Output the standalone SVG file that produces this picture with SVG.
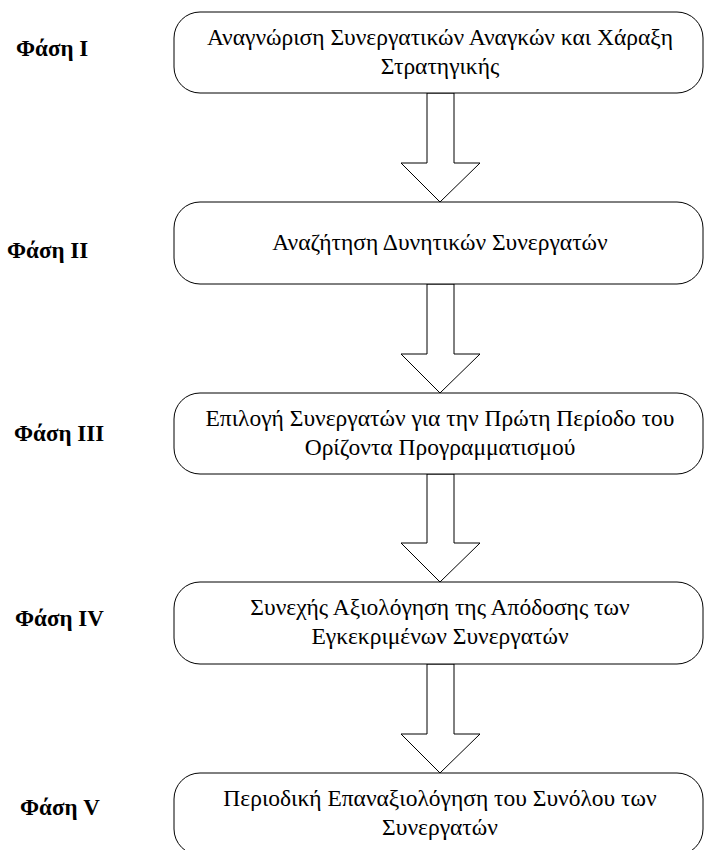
<svg xmlns="http://www.w3.org/2000/svg" width="705" height="850" viewBox="0 0 705 850">
  <style>
    .box { fill: #fff; stroke: #000; stroke-width: 1; }
    .arrow { fill: #fff; stroke: #000; stroke-width: 1; stroke-linejoin: miter; }
    .txt { font-family: "Liberation Serif", "Times New Roman", serif; font-size: 23.5px; fill: #000; text-anchor: middle; }
    .phase { font-family: "Liberation Serif", "Times New Roman", serif; font-size: 23px; font-weight: bold; fill: #000; }
  </style>
  <rect width="705" height="850" fill="#fff"/>

  <!-- phase labels -->
  <g id="labels">
    <text class="phase" x="16" y="56">Φάση Ι</text>
    <text class="phase" x="7" y="258">Φάση ΙΙ</text>
    <text class="phase" x="14" y="441">Φάση ΙΙΙ</text>
    <text class="phase" x="15" y="626">Φάση ΙV</text>
    <text class="phase" x="20" y="815">Φάση V</text>
  </g>

  <!-- block arrows between stages -->
  <g id="connectors">
    <polygon class="arrow" points="427,93 454,93 454,163 480,163 440,202 401,163 427,163"/>
    <polygon class="arrow" points="427,284 454,284 454,354 480,354 440,393 401,354 427,354"/>
    <polygon class="arrow" points="427,474 454,474 454,543 480,543 440,582 401,543 427,543"/>
    <polygon class="arrow" points="427,664 454,664 454,734 480,734 440,773 401,734 427,734"/>
  </g>

  <g id="stage1">
    <rect class="box" x="174" y="12" width="529" height="81" rx="26" ry="26"/>
    <text class="txt" x="440" y="45">Αναγνώριση Συνεργατικών Αναγκών και Χάραξη</text>
    <text class="txt" x="440" y="74">Στρατηγικής</text>
  </g>

  <g id="stage2">
    <rect class="box" x="174" y="202" width="529" height="82" rx="26" ry="26"/>
    <text class="txt" x="440" y="250">Αναζήτηση Δυνητικών Συνεργατών</text>
  </g>

  <g id="stage3">
    <rect class="box" x="174" y="393" width="529" height="81" rx="26" ry="26"/>
    <text class="txt" x="440" y="426">Επιλογή Συνεργατών για την Πρώτη Περίοδο του</text>
    <text class="txt" x="440" y="455">Ορίζοντα Προγραμματισμού</text>
  </g>

  <g id="stage4">
    <rect class="box" x="174" y="582" width="529" height="82" rx="26" ry="26"/>
    <text class="txt" x="440" y="615">Συνεχής Αξιολόγηση της Απόδοσης των</text>
    <text class="txt" x="440" y="644">Εγκεκριμένων Συνεργατών</text>
  </g>

  <g id="stage5">
    <rect class="box" x="174" y="773" width="529" height="82" rx="26" ry="26"/>
    <text class="txt" x="440" y="806">Περιοδική Επαναξιολόγηση του Συνόλου των</text>
    <text class="txt" x="440" y="835">Συνεργατών</text>
  </g>
</svg>
